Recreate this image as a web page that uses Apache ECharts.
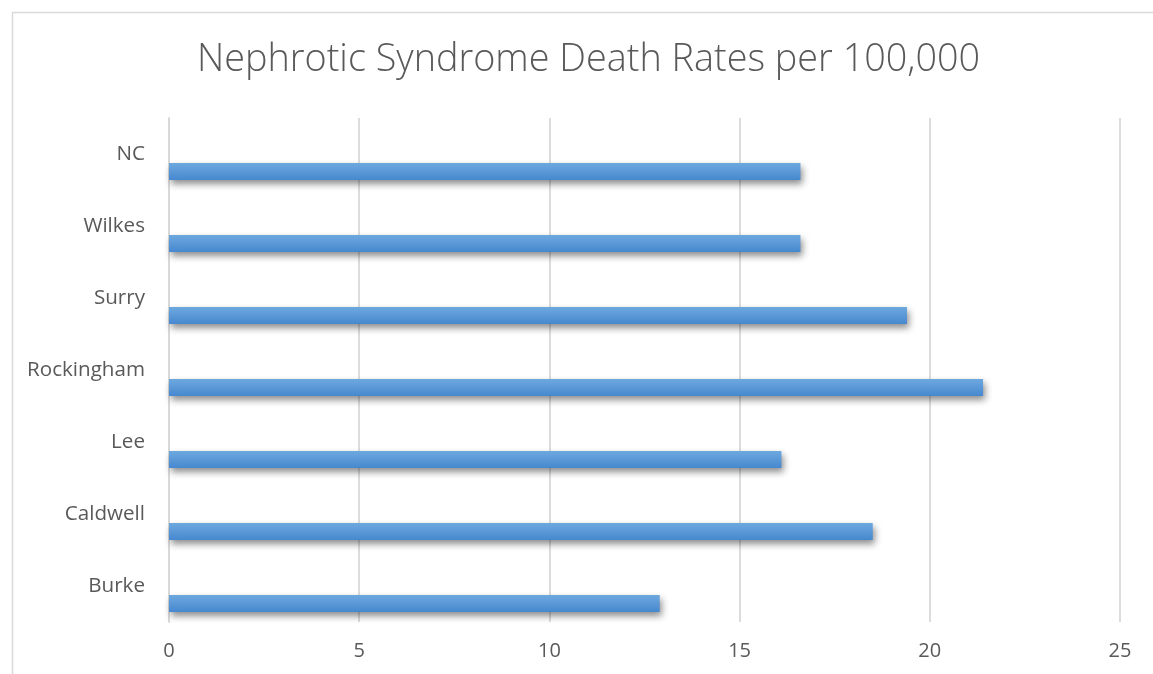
<!DOCTYPE html>
<html>
<head>
<meta charset="utf-8">
<script src="https://cdn.jsdelivr.net/npm/echarts@6/dist/echarts.min.js"></script>
<style>html,body{margin:0;padding:0;background:#fff;}#chart{width:1153px;height:674px;}</style>
</head>
<body>
<div id="chart"></div>
<script>
const categories = ['Burke', 'Caldwell', 'Lee', 'Rockingham', 'Surry', 'Wilkes', 'NC'];
const rates = [12.9, 18.5, 16.1, 21.4, 19.4, 16.6, 16.6];
const emptySeries = [null, null, null, null, null, null, null];
const xTicks = [0, 5, 10, 15, 20, 25];

const chart = echarts.init(document.getElementById('chart'));
chart.setOption({
  backgroundColor: '#ffffff',
  animation: false,
  title: {
    text: 'Nephrotic Syndrome Death Rates per 100,000',
    left: 192,
    top: 36,
    textStyle: { fontFamily: 'Open Sans', fontWeight: 300, fontSize: 37.8, color: '#595959' }
  },
  graphic: [{
    type: 'rect', left: 10, top: 10, silent: true, z: -1,
    shape: { width: 1300, height: 800 },
    style: { fill: 'none', stroke: '#d9d9d9', lineWidth: 1.5 }
  }],
  grid: { left: 169, right: 33, top: 118, bottom: 52, containLabel: false },
  xAxis: {
    type: 'value', min: xTicks[0], max: xTicks[xTicks.length - 1], interval: 5,
    axisLine: { show: false }, axisTick: { show: false },
    splitLine: { lineStyle: { color: '#d9d9d9', width: 1.8 } },
    axisLabel: { color: '#595959', fontSize: 20, fontFamily: 'Open Sans', margin: 19 }
  },
  yAxis: {
    type: 'category', data: categories,
    axisLine: { show: true, lineStyle: { color: '#d9d9d9', width: 1.8 } },
    axisTick: { show: false },
    axisLabel: { color: '#595959', fontSize: 20.6, fontFamily: 'Open Sans', margin: 24, verticalAlign: 'middle', padding: [0, 0, 4, 0] }
  },
  series: [
    { type: 'bar', data: emptySeries, barWidth: 17, barGap: '106%' },
    {
      type: 'bar', data: rates, barWidth: 17, barGap: '106%',
      itemStyle: {
        color: new echarts.graphic.LinearGradient(0, 0, 0, 1, [
          { offset: 0, color: '#6ea8df' },
          { offset: 1, color: '#4688cf' }
        ]),
        shadowColor: 'rgba(0,0,0,0.45)', shadowBlur: 7, shadowOffsetX: 2, shadowOffsetY: 4
      }
    }
  ]
});
</script>
</body>
</html>
